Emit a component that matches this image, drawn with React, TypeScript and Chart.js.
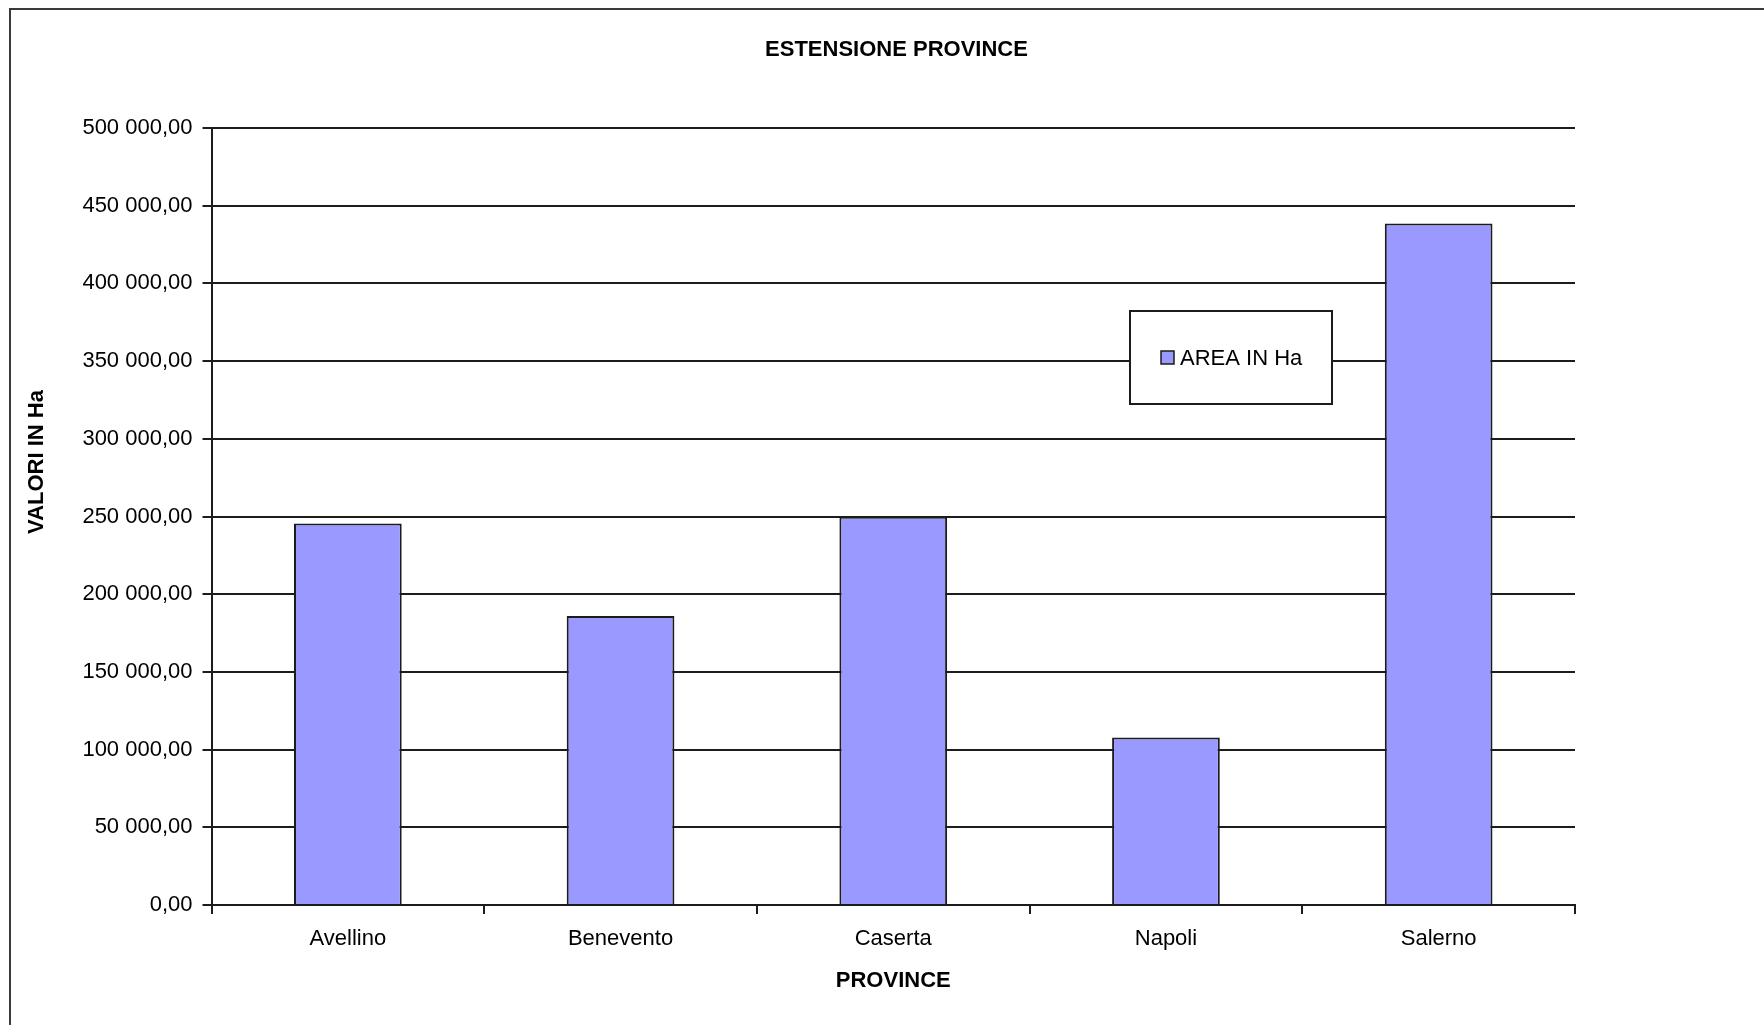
import React, { useEffect, useRef } from "react";
import { Chart, registerables } from "chart.js";

Chart.register(...registerables);

// Province surfaces, in hectares
const provinces = ["Avellino", "Benevento", "Caserta", "Napoli", "Salerno"];
const areaHa = [245500, 186000, 249800, 107800, 438500];

const seriesLabel = "AREA IN Ha";
const chartTitle = "ESTENSIONE PROVINCE";
const xAxisTitle = "PROVINCE";
const yAxisTitle = "VALORI IN Ha";

const yMin = 0;
const yMax = 500000;
const yStep = 50000;

const W = 1764;
const H = 1025;
const FONT = "'Liberation Sans', Arial, Helvetica, sans-serif";
const INK = "#1c1c1c";
const BAR_FILL = "#9999ff";

// Italian style number: "450 000,00"
function formatValue(v: number): string {
  const whole = Math.round(v)
    .toString()
    .replace(/\B(?=(\d{3})+(?!\d))/g, " ");
  return whole + ",00";
}

// Frame, titles and the boxed legend of the Excel-like sheet chart
const sheetDecor = {
  id: "sheetDecor",
  beforeDraw(chart: Chart) {
    const ctx = chart.ctx;
    ctx.save();
    ctx.fillStyle = "#ffffff";
    ctx.fillRect(0, 0, chart.width, chart.height);
    ctx.strokeStyle = "#3a3a3a";
    ctx.lineWidth = 2;
    ctx.strokeRect(10, 9, 3000, 3000);
    ctx.restore();
  },
  afterDraw(chart: Chart) {
    const ctx = chart.ctx;
    const area = chart.chartArea;
    ctx.save();
    ctx.fillStyle = "#000000";

    // chart title
    ctx.font = `bold 22px ${FONT}`;
    ctx.textAlign = "center";
    ctx.textBaseline = "alphabetic";
    ctx.fillText(chartTitle, 896.5, 56);

    // x axis title
    ctx.fillText(xAxisTitle, (area.left + area.right) / 2, 987);

    // y axis title, rotated
    ctx.save();
    ctx.translate(43, 462);
    ctx.rotate(-Math.PI / 2);
    ctx.fillText(yAxisTitle, 0, 0);
    ctx.restore();

    // legend box
    const bx = 1130;
    const by = 311;
    const bw = 202;
    const bh = 93;
    ctx.fillStyle = "#ffffff";
    ctx.fillRect(bx, by, bw, bh);
    ctx.strokeStyle = INK;
    ctx.lineWidth = 2;
    ctx.strokeRect(bx, by, bw, bh);

    const ds = chart.data.datasets[0];
    ctx.fillStyle = BAR_FILL;
    ctx.fillRect(1161, 351, 13, 13);
    ctx.lineWidth = 1.5;
    ctx.strokeRect(1161, 351, 13, 13);

    ctx.fillStyle = "#000000";
    ctx.font = `22px ${FONT}`;
    ctx.textAlign = "left";
    ctx.fillText(String(ds.label), 1180, 365);
    ctx.restore();
  },
};

export default function App() {
  const canvasRef = useRef<HTMLCanvasElement | null>(null);

  useEffect(() => {
    const canvas = canvasRef.current;
    if (!canvas) return;

    const chart = new Chart(canvas, {
      type: "bar",
      data: {
        labels: provinces,
        datasets: [
          {
            label: seriesLabel,
            data: areaHa,
            backgroundColor: BAR_FILL,
            borderColor: INK,
            borderWidth: 2,
            barPercentage: 0.395,
            categoryPercentage: 1,
          },
        ],
      },
      options: {
        responsive: false,
        animation: false,
        devicePixelRatio: 1,
        layout: {
          padding: { left: 11.5, right: 189, top: 128, bottom: 0 },
        },
        plugins: {
          legend: { display: false },
          title: { display: false },
          tooltip: { enabled: false },
        },
        scales: {
          x: {
            offset: true,
            afterFit(scale: any) {
              scale.height = 120;
            },
            grid: {
              display: true,
              offset: true,
              drawOnChartArea: false,
              drawTicks: true,
              tickLength: 9,
              color: INK,
              lineWidth: 2,
            },
            border: { display: true, color: INK, width: 2 },
            ticks: {
              color: "#000000",
              font: { family: FONT, size: 22 },
              padding: 12,
              maxRotation: 0,
            },
          },
          y: {
            min: yMin,
            max: yMax,
            afterFit(scale: any) {
              scale.width = 200;
            },
            grid: {
              color: INK,
              lineWidth: 2,
              drawTicks: true,
              tickLength: 9,
            },
            border: { display: true, color: INK, width: 2 },
            ticks: {
              stepSize: yStep,
              color: "#000000",
              font: { family: FONT, size: 22 },
              padding: 10,
              callback: (value: any) => formatValue(Number(value)),
            },
          },
        },
      },
      plugins: [sheetDecor],
    });

    return () => chart.destroy();
  }, []);

  return (
    <div style={{ position: "fixed", left: 0, top: 0, width: W, height: H, background: "#ffffff" }}>
      <canvas ref={canvasRef} width={W} height={H} style={{ display: "block", width: W, height: H }} />
    </div>
  );
}
